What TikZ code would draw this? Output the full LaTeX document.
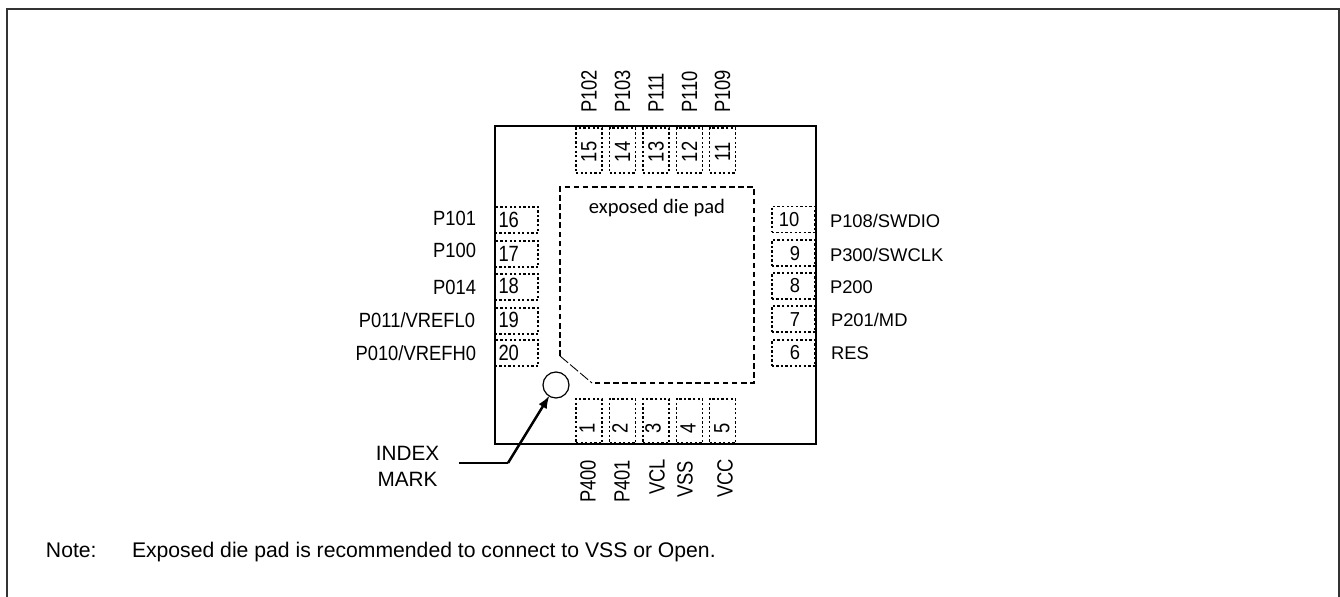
\documentclass[tikz,border=0pt]{standalone}
\usepackage{fontspec}
\setmainfont{Liberation Sans}
\newfontfamily\padfont{Carlito}
\usetikzlibrary{arrows}

\tikzset{
	padbox/.style={draw,line width=0.9pt,dash pattern=on 1.3pt off 1.3pt,inner sep=0pt,outer sep=0pt},
	vpad/.style={padbox,minimum width=0.52cm,minimum height=0.89cm},
	hpad/.style={padbox,minimum width=0.87cm,minimum height=0.52cm},
	pintext/.style={inner sep=0pt,outer sep=0pt,font=\fontsize{10.45}{12}\selectfont},
	uppin/.style={pintext,rotate=90,yscale=1.2},
	leftpin/.style={pintext,anchor=base east,yscale=1.12},
	notetext/.style={inner sep=0pt,outer sep=0pt,anchor=base west,font=\fontsize{12.05}{14}\selectfont},
}

\begin{document}
\begin{tikzpicture}[>=latex,x=0.02cm,y=-0.02cm]

\useasboundingbox (0,0) rectangle (1340,597);
\draw[line width=1pt,color=black!80] (7,597)--(7,9)--(1339,9)--(1339,597);

% package outline
\draw[line width=1.1pt] (495,126) rectangle (816,444);

% die pad
\draw[line width=0.6pt,dash pattern=on 3.2pt off 2pt] (560,356)--(560,187)--(754,187)--(754,383)--(592,383);
\draw[line width=0.5pt,dash pattern=on 6pt off 1.5pt] (560,356)--(592,383);
\node[inner sep=0pt] (diepad) at (657,208) {\padfont\fontsize{11.7}{14}\selectfont exposed die pad};

% top side
\foreach \n/\x/\s in {15/589/P102,14/622.5/P103,13/656/P111,12/689.5/P110,11/722.5/P109}{
	\node[vpad] (pad\n) at (\x,150.5) {};
	\node[uppin] (num\n) at (\x,152) {\n};
	\node[uppin,anchor=west] (pin\n) at (\x,113) {\s};
}

% bottom side
\foreach \n/\x/\tx/\s/\sx/\sy in {1/589/587/P400/588/503,2/622.5/620/P401/622/503,3/656/653/VCL/657/495,4/689.5/688/VSS/685/498,5/722.5/722/VCC/725/498}{
	\node[vpad] (pad\n) at (\x,421) {};
	\node[uppin] (num\n) at (\tx,428) {\n};
	\node[uppin,anchor=west] (pin\n) at (\sx,\sy) {\s};
}

% left side
\foreach \n/\y/\by in {16/220/228,17/254/262,18/287/294,19/321/328,20/353/361}{
	\node[hpad] (pad\n) at (516.5,\y) {};
	\node[pintext,anchor=base west,yscale=1.2] (num\n) at (498.5,\by) {\n};
}
\node[leftpin] (pin16) at (476,226) {P101};
\node[leftpin] (pin17) at (476,258) {P100};
\node[leftpin] (pin18) at (476,295) {P014};
\node[leftpin] (pin19) at (475,328) {P011/VREFL0};
\node[leftpin] (pin20) at (476,361) {P010/VREFH0};

% right side
\foreach \n/\y/\tx/\by in {10/219.5/789/227,9/253/795/261,8/286/795/293,7/319/795/327,6/353/795/360}{
	\node[hpad] (pad\n) at (793.5,\y) {};
	\node[pintext,anchor=base,yscale=1.1] (num\n) at (\tx,\by) {\n};
}
\node[pintext,anchor=base west] (pin10) at (830,228) {P108/SWDIO};
\node[pintext,anchor=base west] (pin9) at (830,262) {P300/SWCLK};
\node[pintext,anchor=base west] (pin8) at (830,294) {P200};
\node[pintext,anchor=base west] (pin7) at (831,327) {P201/MD};
\node[pintext,anchor=base west] (pin6) at (831,360) {RES};

% index mark
\node[draw,circle,line width=0.7pt,minimum size=0.52cm,inner sep=0pt,outer sep=0pt] (mark) at (556,385) {};
\node[inner ysep=0pt,inner xsep=11pt,outer sep=0pt,align=center,font=\fontsize{11.8}{14.8}\selectfont] (index) at (407.5,466) {INDEX\\MARK};
\coordinate (bend) at (508,463);
\draw[line width=0.6pt] (index.east |- bend)--(bend);
\draw[->,line width=1.4pt] (bend)--(mark);

\node[notetext] (note) at (46,558) {Note:};
\node[notetext] (notebody) at (132,558) {Exposed die pad is recommended to connect to VSS or Open.};

\end{tikzpicture}
\end{document}
